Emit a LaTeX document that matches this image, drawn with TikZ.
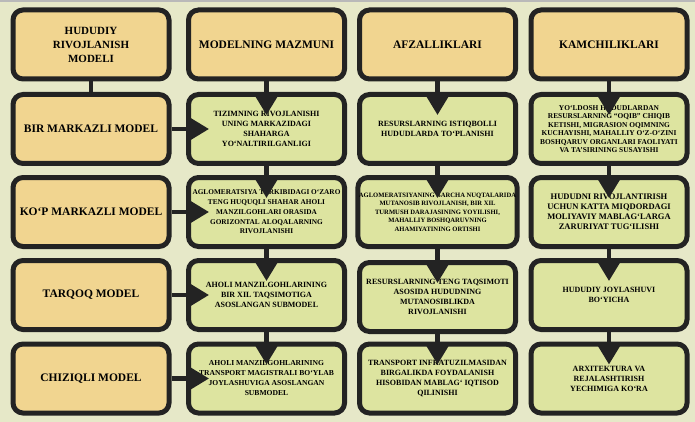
\documentclass[tikz,border=0pt]{standalone}
\usepackage{fontspec}
\setmainfont{Liberation Serif}
\usepackage{tikz}
\usepackage{xcolor}
\usetikzlibrary{positioning}
\usetikzlibrary{arrows.meta}

\definecolor{bgcream}{HTML}{E6E8C8}
\definecolor{tanfill}{HTML}{F1D590}
\definecolor{greenfill}{HTML}{DDE4A0}
\definecolor{edgedark}{HTML}{232323}

\begin{document}
\begin{tikzpicture}[
    x=1pt, y=-1pt,
    headbox/.style={rectangle, rounded corners=10pt, draw=edgedark, line width=5pt, fill=tanfill, minimum width=156pt, minimum height=69pt, align=center, inner sep=1pt, font=\bfseries\fontsize{11.5}{14}\selectfont},
    infobox/.style={headbox, fill=greenfill, font=\bfseries\fontsize{8}{10}\selectfont},
    link/.style={draw=edgedark, line width=4.5pt},
    arr/.style={link, -{Triangle[length=21pt, width=24pt]}, shorten >=-23pt}
]

% Background
\useasboundingbox (0,0) rectangle (695,422);
\fill[bgcream] (0,0) rectangle (695,422);
\fill[gray!55] (0,0) rectangle (695,2.5);

% Header row
\node[headbox, font=\bfseries\fontsize{11}{14}\selectfont] (hdModel) at (91,44.5) {HUDUDIY\\RIVOJLANISH\\MODELI};
\node[headbox] (hdContent) at (266.5,44.5) {MODELNING MAZMUNI};
\node[headbox] (hdPros) at (437.5,44.5) {AFZALLIKLARI};
\node[headbox] (hdCons) at (609,44.5) {KAMCHILIKLARI};

% Models
\node[headbox] (mdOne) at (91,129) {BIR MARKAZLI MODEL};
\node[headbox] (mdMulti) at (91,212) {KO‘P MARKAZLI MODEL};
\node[headbox] (mdScatter) at (91,295) {TARQOQ MODEL};
\node[headbox] (mdLinear) at (91,378.5) {CHIZIQLI MODEL};

% Content
\node[infobox] (ctOne) at (266.5,129) {TIZIMNING RIVOJLANISHI\\UNING MARKAZIDAGI\\SHAHARGA\\YO‘NALTIRILGANLIGI};
\node[infobox, font=\bfseries\fontsize{7.3}{9.8}\selectfont] (ctMulti) at (266.5,212) {AGLOMERATSIYA TARKIBIDAGI O‘ZARO\\TENG HUQUQLI SHAHAR AHOLI\\MANZILGOHLARI ORASIDA\\GORIZONTAL ALOQALARNING\\RIVOJLANISHI};
\node[infobox] (ctScatter) at (266.5,295) {AHOLI MANZILGOHLARINING\\BIR XIL TAQSIMOTIGA\\ASOSLANGAN SUBMODEL};
\node[infobox, font=\bfseries\fontsize{7.6}{10}\selectfont] (ctLinear) at (266.5,378.5) {AHOLI MANZILGOHLARINING\\TRANSPORT MAGISTRALI BO‘YLAB\\JOYLASHUVIGA ASOSLANGAN\\SUBMODEL};

% Pros
\node[infobox] (prOne) at (437.5,129) {RESURSLARNING ISTIQBOLLI\\HUDUDLARDA TO‘PLANISHI};
\node[infobox, font=\bfseries\fontsize{6.6}{8.5}\selectfont] (prMulti) at (437.5,212) {AGLOMERATSIYANING BARCHA NUQTALARIDA\\MUTANOSIB RIVOJLANISH, BIR XIL\\TURMUSH DARAJASINING YOYILISHI,\\MAHALLIY BOSHQARUVNING\\AHAMIYATINING ORTISHI};
\node[infobox] (prScatter) at (437.5,297) {RESURSLARNING TENG TAQSIMOTI\\ASOSIDA HUDUDNING\\MUTANOSIBLIKDA\\RIVOJLANISHI};
\node[infobox] (prLinear) at (437.5,378.5) {TRANSPORT INFRATUZILMASIDAN\\BIRGALIKDA FOYDALANISH\\HISOBIDAN MABLAG‘ IQTISOD\\QILINISHI};

% Cons
\node[infobox, font=\bfseries\fontsize{7.4}{8.5}\selectfont] (cnOne) at (609,129) {YO‘LDOSH HUDUDLARDAN\\RESURSLARNING “OQIB” CHIQIB\\KETISHI, MIGRASION OQIMNING\\KUCHAYISHI, MAHALLIY O‘Z-O‘ZINI\\BOSHQARUV ORGANLARI FAOLIYATI\\VA TA’SIRINING SUSAYISHI};
\node[infobox, font=\bfseries\fontsize{8.5}{10}\selectfont] (cnMulti) at (609,212) {HUDUDNI RIVOJLANTIRISH\\UCHUN KATTA MIQDORDAGI\\MOLIYAVIY MABLAG‘LARGA\\ZARURIYAT TUG‘ILISHI};
\node[infobox] (cnScatter) at (609,295) {HUDUDIY JOYLASHUVI\\BO‘YICHA};
\node[infobox] (cnLinear) at (609,378.5) {ARXITEKTURA VA\\REJALASHTIRISH\\YECHIMIGA KO‘RA};

% Links
\draw[link] (hdModel.south) -- (mdOne.north);
\draw[arr] (mdOne.east) -- (ctOne.west);
\draw[arr] (mdMulti.east) -- (ctMulti.west);
\draw[arr] (mdScatter.east) -- (ctScatter.west);
\draw[arr] (mdLinear.east) -- (ctLinear.west);

\draw[arr] (hdContent.south) -- (ctOne.north);
\draw[arr] (ctOne.south) -- (ctMulti.north);
\draw[arr] (ctMulti.south) -- (ctScatter.north);
\draw[arr] (ctScatter.south) -- (ctLinear.north);

\draw[arr] (hdPros.south) -- (prOne.north);
\draw[arr] (prOne.south) -- (prMulti.north);
\draw[arr] (prMulti.south) -- (prScatter.north);
\draw[arr] (prScatter.south) -- (prLinear.north);

\draw[arr] (hdCons.south) -- (cnOne.north);
\draw[arr] (cnOne.south) -- (cnMulti.north);
\draw[arr] (cnMulti.south) -- (cnScatter.north);
\draw[arr] (cnScatter.south) -- (cnLinear.north);

\end{tikzpicture}
\end{document}
